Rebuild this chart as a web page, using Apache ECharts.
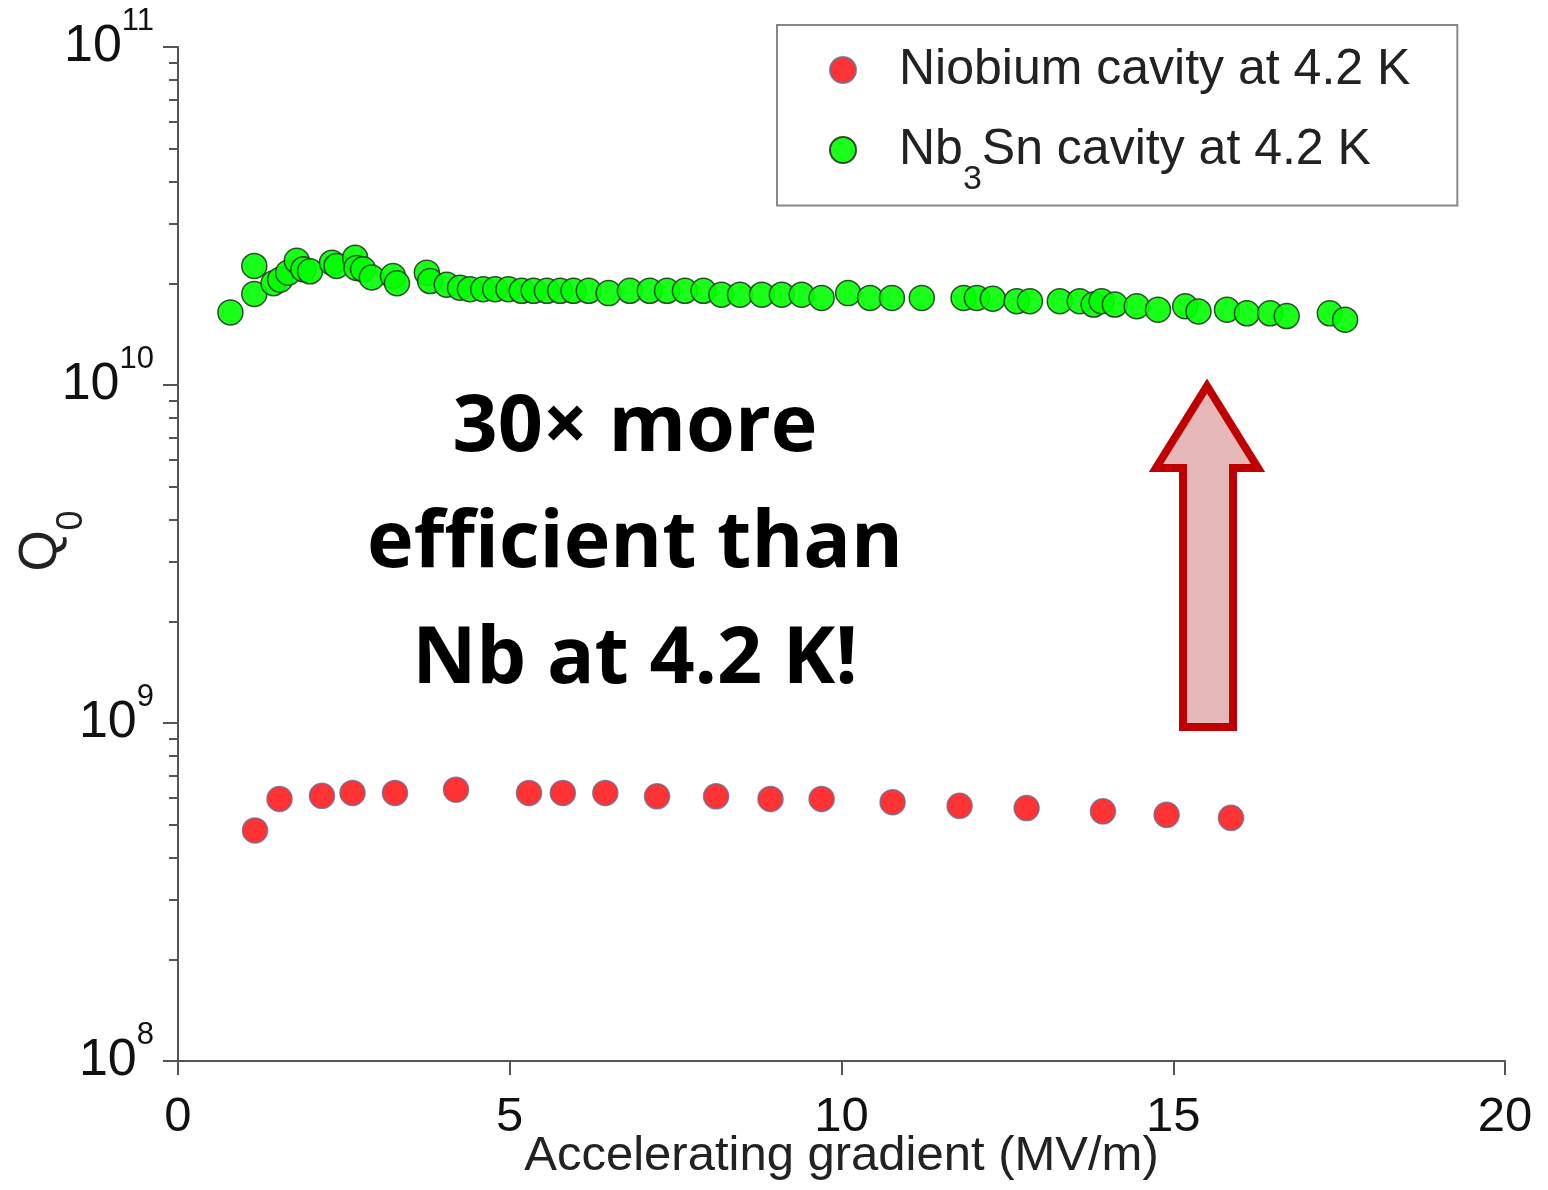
<!DOCTYPE html>
<html>
<head>
<meta charset="utf-8">
<title>Q0 vs accelerating gradient</title>
<script src="https://cdn.jsdelivr.net/npm/echarts@6/dist/echarts.min.js"></script>
<style>
  html, body { margin: 0; padding: 0; background: #fff; }
  #main { width: 1548px; height: 1190px; }
</style>
</head>
<body>
<div id="main"></div>
<script>
// Niobium cavity at 4.2 K
var nbX = [1.16, 1.53, 2.17, 2.63, 3.27, 4.19, 5.29, 5.80, 6.44, 7.22, 8.11, 8.93, 9.70, 10.77, 11.78, 12.79, 13.94, 14.90, 15.87];
var nbQ = [4.81e8, 5.96e8, 6.09e8, 6.21e8, 6.21e8, 6.35e8, 6.21e8, 6.21e8, 6.21e8, 6.07e8, 6.07e8, 5.96e8, 5.96e8, 5.83e8, 5.69e8, 5.60e8, 5.48e8, 5.35e8, 5.24e8];

// Nb3Sn cavity at 4.2 K
var snX = [0.79, 1.15, 1.15, 1.44, 1.54, 1.66, 1.79, 1.89, 1.99, 2.32,
           2.39, 2.67, 2.69, 2.79, 2.92, 3.24, 3.30, 3.75, 3.80, 4.05,
           4.25, 4.40, 4.60, 4.78, 4.98, 5.18, 5.36, 5.56, 5.76, 5.96,
           6.19, 6.49, 6.81, 7.11, 7.37, 7.64, 7.92, 8.19, 8.47, 8.80,
           9.10, 9.40, 9.70, 10.10, 10.43, 10.76, 11.21, 11.84, 12.04, 12.28,
           12.64, 12.84, 13.29, 13.59, 13.80, 13.92, 14.12, 14.45, 14.77, 15.18,
           15.38, 15.81, 16.11, 16.46, 16.71, 17.36, 17.59];
var snQ = [1.64e10, 2.25e10, 1.86e10, 2.00e10, 2.05e10, 2.15e10, 2.33e10, 2.20e10, 2.17e10, 2.30e10,
           2.25e10, 2.38e10, 2.22e10, 2.20e10, 2.08e10, 2.10e10, 2.00e10, 2.15e10, 2.03e10, 1.98e10,
           1.94e10, 1.92e10, 1.92e10, 1.92e10, 1.92e10, 1.90e10, 1.90e10, 1.90e10, 1.90e10, 1.90e10,
           1.90e10, 1.87e10, 1.90e10, 1.90e10, 1.90e10, 1.90e10, 1.90e10, 1.85e10, 1.85e10, 1.85e10,
           1.85e10, 1.85e10, 1.81e10, 1.87e10, 1.81e10, 1.81e10, 1.81e10, 1.81e10, 1.81e10, 1.80e10,
           1.77e10, 1.77e10, 1.77e10, 1.77e10, 1.73e10, 1.77e10, 1.73e10, 1.71e10, 1.67e10, 1.71e10,
           1.65e10, 1.67e10, 1.63e10, 1.63e10, 1.60e10, 1.63e10, 1.56e10];

// axis ticks
var xTicks = [0, 5, 10, 15, 20];
var yDecades = [8, 9, 10, 11];
var minorMultipliers = [2, 3, 4, 5, 6, 7, 8, 9];

var annotationLines = ['30\u00d7 more', 'efficient than', 'Nb at 4.2 K!'];

function pairs(xs, ys) {
    return xs.map(function (x, i) { return [x, ys[i]]; });
}

// minor log ticks, placed on a helper linear axis running in log10 units
var minorTicks = [];
yDecades.slice(0, -1).forEach(function (d) {
    minorMultipliers.forEach(function (m) { minorTicks.push(d + Math.log10(m)); });
});

var font = 'Liberation Sans, Arial, sans-serif';
var axisColor = '#555';

var chart = echarts.init(document.getElementById('main'));

var option = {
    animation: false,
    backgroundColor: '#fff',
    grid: { left: 178, right: 43, top: 47, bottom: 129, containLabel: false, outerBoundsMode: 'none' },
    legend: {
        orient: 'vertical',
        left: 777,
        top: 25,
        padding: [20, 47, 9, 52],
        itemGap: 30,
        itemWidth: 26,
        itemHeight: 26,
        icon: 'circle',
        borderColor: '#888',
        borderWidth: 2,
        backgroundColor: '#fff',
        data: ['Niobium cavity at 4.2 K', 'Nb3Sn cavity at 4.2 K'],
        formatter: function (name) {
            if (name.indexOf('Nb3Sn') === 0) {
                return '{f|Nb}{sub|3}{a|Sn cavity at 4.2 K}';
            }
            return '{f|' + name + '}';
        },
        textStyle: {
            fontFamily: font,
            fontSize: 50,
            color: '#222',
            rich: {
                f: { fontFamily: font, fontSize: 50, color: '#222', verticalAlign: 'middle', padding: [0, 0, 0, 38] },
                a: { fontFamily: font, fontSize: 50, color: '#222', verticalAlign: 'middle' },
                sub: { fontFamily: font, fontSize: 34, color: '#222', verticalAlign: 'bottom', padding: [59, 0, 0, 0] }
            }
        }
    },
    xAxis: {
        type: 'value',
        min: 0,
        max: 20,
        interval: 5,
        name: 'Accelerating gradient (MV/m)',
        nameLocation: 'middle',
        nameGap: 71,
        nameMoveOverlap: false,
        nameTextStyle: { fontFamily: font, fontSize: 49, color: '#222' },
        axisLine: { show: true, lineStyle: { color: axisColor, width: 2 } },
        axisTick: { show: true, length: 14, lineStyle: { color: axisColor, width: 2 } },
        axisLabel: {
            fontFamily: font, fontSize: 49, color: '#111', margin: 32,
            formatter: function (v) { return xTicks.indexOf(v) >= 0 ? String(v) : ''; }
        },
        splitLine: { show: false }
    },
    yAxis: [{
        type: 'log',
        logBase: 10,
        min: Math.pow(10, yDecades[0]),
        max: Math.pow(10, yDecades[yDecades.length - 1]),
        name: '{q|Q}{z|0}',
        nameLocation: 'middle',
        nameRotate: 90,
        nameGap: 88,
        nameMoveOverlap: false,
        nameTextStyle: {
            fontFamily: font, fontSize: 52, color: '#222',
            padding: [0, 0, 0, 26],
            rich: {
                q: { fontFamily: font, fontSize: 53, color: '#222', verticalAlign: 'middle' },
                z: { fontFamily: font, fontSize: 36, color: '#222', verticalAlign: 'bottom', padding: [62, 0, 0, 0] }
            }
        },
        axisLine: { show: true, lineStyle: { color: axisColor, width: 2 } },
        axisTick: { show: true, length: 15, lineStyle: { color: axisColor, width: 2 } },
        axisLabel: {
            margin: 24,
            formatter: function (v) {
                return '{b|10}{s|' + Math.round(Math.log10(v)) + '}';
            },
            rich: {
                b: { fontFamily: font, fontSize: 52, color: '#111', lineHeight: 82, verticalAlign: 'middle' },
                s: { fontFamily: font, fontSize: 31, color: '#111', lineHeight: 30, verticalAlign: 'top' }
            }
        },
        splitLine: { show: false }
    }, {
        type: 'value',
        min: yDecades[0],
        max: yDecades[yDecades.length - 1],
        position: 'left',
        axisLine: { show: false },
        axisLabel: { show: false },
        axisTick: {
            show: true,
            length: 9,
            customValues: minorTicks,
            lineStyle: { color: axisColor, width: 2 }
        },
        splitLine: { show: false }
    }],
    series: [{
        name: 'Niobium cavity at 4.2 K',
        type: 'scatter',
        yAxisIndex: 0,
        symbol: 'circle',
        symbolSize: 25,
        itemStyle: { color: '#ff0000', borderColor: '#6a6a8c', borderWidth: 1.5 },
        data: pairs(nbX, nbQ),
        z: 3
    }, {
        name: 'Nb3Sn cavity at 4.2 K',
        type: 'scatter',
        yAxisIndex: 0,
        symbol: 'circle',
        symbolSize: 25,
        itemStyle: { color: '#00ff00', borderColor: '#1f3d1f', borderWidth: 1.5, opacity: 0.9 },
        data: pairs(snX, snQ),
        z: 3
    }],
    graphic: [{
        type: 'text',
        x: 635,
        y: 544,
        style: {
            text: annotationLines.join('\n'),
            align: 'center',
            verticalAlign: 'middle',
            fontFamily: 'Open Sans, Lato, sans-serif',
            fontWeight: 'bold',
            fontSize: 79,
            lineHeight: 116,
            fill: '#000'
        }
    }, {
        type: 'polygon',
        shape: {
            points: [[1207, 386], [1258, 468], [1233, 468], [1233, 727], [1183, 727], [1183, 468], [1156, 468]]
        },
        style: { fill: '#e6b8b7', stroke: '#c00000', lineWidth: 8, lineJoin: 'miter' },
        z: 10
    }]
};

chart.setOption(option);
</script>
</body>
</html>
